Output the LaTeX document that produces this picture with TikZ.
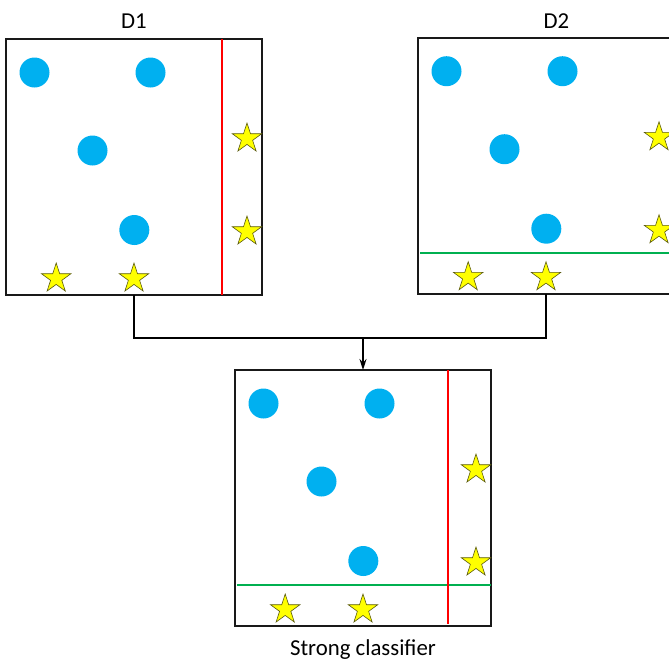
\documentclass[tikz,border=0pt]{standalone}
\usepackage{fontspec}
\setmainfont{Carlito}
\usetikzlibrary{arrows.meta,calc}

\definecolor{dotblue}{HTML}{00B0F0}
\definecolor{staryellow}{HTML}{FFFF00}
\definecolor{staredge}{HTML}{5A5A10}
\definecolor{splitred}{HTML}{FF0000}
\definecolor{splitgreen}{HTML}{00B050}

\tikzset{
  panel/.style={draw=black!90, line width=1.8pt, minimum width=256pt,
    minimum height=256pt, inner sep=0pt, outer sep=0pt},
  title/.style={font=\fontsize{22.8}{27}\selectfont, inner sep=0pt},
  dot/.style={fill=dotblue, draw=none},
  starstyle/.style={fill=staryellow, draw=staredge, line width=0.6pt, line join=miter},
  redcut/.style={draw=splitred, line width=2pt},
  greencut/.style={draw=splitgreen, line width=2pt},
  conn/.style={draw=black, line width=2.2pt},
  feed/.style={draw=black, line width=1.6pt, -{Stealth[length=11pt, width=7pt]}},
  starmark/.pic={
    \path[starstyle] (270:15.5) -- (306:5.92) -- (342:15.5) -- (18:5.92)
      -- (54:15.5) -- (90:5.92) -- (126:15.5) -- (162:5.92) -- (198:15.5)
      -- (234:5.92) -- cycle;
  }
}

% the four dots and four stars shared by every panel
\newcommand{\pointset}[1]{%
  \fill[dot] ($(#1.north west)+(28.5,33.5)$) circle (15);
  \fill[dot] ($(#1.north west)+(144.5,33.5)$) circle (15);
  \fill[dot] ($(#1.north west)+(86.5,111.5)$) circle (15);
  \fill[dot] ($(#1.north west)+(128.3,191)$) circle (15);
  \pic at ($(#1.north west)+(50.2,239.5)$) {starmark};
  \pic at ($(#1.north west)+(128,239.5)$) {starmark};
  \pic at ($(#1.north west)+(241,99.5)$) {starmark};
  \pic at ($(#1.north west)+(241,192.5)$) {starmark};
}

\begin{document}
\begin{tikzpicture}[x=1pt, y=-1pt]
  \useasboundingbox (0,0) rectangle (669,662);
  \clip (0,0) rectangle (669,662);

  % panels
  \node[panel] (d1) at (134,167) {};
  \node[panel] (d2) at (546,165.7) {};
  \node[panel] (strong) at (363,498) {};

  % titles
  \node[title] (d1t) at (134,21) {D1};
  \node[title] (d2t) at (556.5,21) {D2};
  \node[title] (strongt) at (363,650) {Strong classifier};

  % contents of D1 with its vertical split
  \pointset{d1}
  \draw[redcut] ($(d1.north west)+(215.7,0)$) -- ($(d1.south west)+(215.7,0)$);

  % contents of D2 with its horizontal split
  \pointset{d2}
  \draw[greencut] ($(d2.north west)+(2,215.3)$) -- ($(d2.north east)+(0,215.3)$);

  % combined classifier
  \pointset{strong}
  \draw[greencut] ($(strong.north west)+(2,215.3)$) -- ($(strong.north east)+(0,215.3)$);
  \draw[redcut] ($(strong.north west)+(212.7,0)$) -- ($(strong.south west)+(212.7,-2.5)$);

  % connectors
  \coordinate (join) at (363,337.7);
  \draw[conn] (d1.south) |- (join);
  \draw[conn] (d2.south) |- (join);
  \draw[feed] (join) -- (strong.north);
\end{tikzpicture}
\end{document}
